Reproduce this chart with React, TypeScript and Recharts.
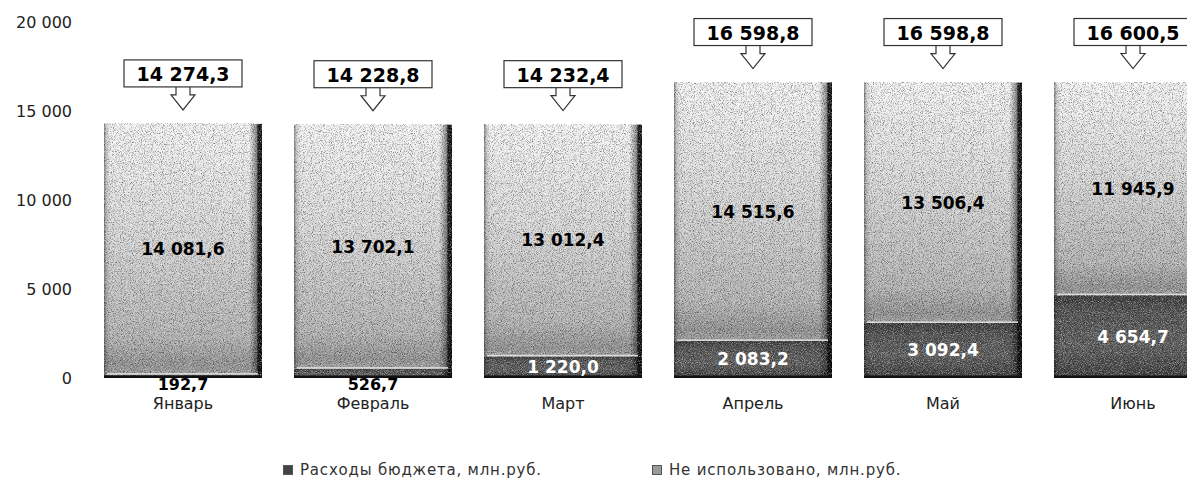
import React from "react";
import { Bar, BarChart, LabelList, XAxis, YAxis } from "recharts";

const months = ["Январь", "Февраль", "Март", "Апрель", "Май", "Июнь"];
const spent = [192.7, 526.7, 1220.0, 2083.2, 3092.4, 4654.7];
const unused = [14081.6, 13702.1, 13012.4, 14515.6, 13506.4, 11945.9];
const totals = [14274.3, 14228.8, 14232.4, 16598.8, 16598.8, 16600.5];
const yTicks = [0, 5000, 10000, 15000, 20000];

const seriesNames = ["Расходы бюджета, млн.руб.", "Не использовано, млн.руб."];

const data = months.map((month, i) => ({
  month,
  spent: spent[i],
  unused: unused[i],
}));

const FONT = "'DejaVu Sans', sans-serif";

function groupThousands(s: string) {
  return s.replace(/\B(?=(\d{3})+(?!\d))/g, " ");
}

function fmtValue(v: number) {
  const [a, b] = v.toFixed(1).split(".");
  return groupThousands(a) + "," + b;
}

function fmtTick(v: number) {
  return groupThousands(String(v));
}

function Segment(props: any) {
  const { x, y, width, height, kind } = props;
  if (!height || height <= 0) return null;
  const dark = kind === "spent";
  return (
    <g>
      <rect x={x} y={y} width={width} height={height} fill={dark ? "url(#gSpent)" : "url(#gUnused)"} />
      <rect x={x} y={y} width={width} height={height} fill="url(#gEdge)" />
      <rect x={x} y={y} width={width} height={height} fill="#000" filter="url(#grainDark)" />
      <rect x={x} y={y} width={width} height={height} fill="#fff" filter="url(#grainLight)" />
      {dark ? (
        <rect x={x} y={y + height - 2.5} width={width} height={2.5} fill="#111" />
      ) : (
        <rect x={x + 3} y={y + height - 1.5} width={width - 7} height={1.5} fill="#dcdcdc" />
      )}
    </g>
  );
}

function InnerLabel(props: any) {
  const { x, y, width, height, value, kind } = props;
  const cx = x + width / 2;
  const small = kind === "spent" && height < 15;
  const ty = small ? y + height + 6 : y + height / 2;
  const fill = kind === "spent" && !small ? "#fff" : "#000";
  return (
    <text
      x={cx}
      y={ty}
      textAnchor="middle"
      dominantBaseline="central"
      fontFamily={FONT}
      fontWeight="bold"
      fontSize={small ? 16 : 17}
      fill={fill}
    >
      {fmtValue(Number(value))}
    </text>
  );
}

function Callout(props: any) {
  const { x, y, width, index } = props;
  const cx = x + width / 2;
  const bw = 118;
  const bh = 27;
  const top = y - 64;
  const yb = top + bh;
  return (
    <g>
      <path
        d={`M${cx - 7},${yb} L${cx - 7},${yb + 8} L${cx - 12},${yb + 8} L${cx},${yb + 23} L${cx + 12},${yb + 8} L${cx + 7},${yb + 8} L${cx + 7},${yb}`}
        fill="#fff"
        stroke="#333"
        strokeWidth={1.2}
      />
      <rect x={cx - bw / 2} y={top} width={bw} height={bh} fill="#fff" stroke="#333" strokeWidth={1.2} />
      <text
        x={cx}
        y={top + bh / 2 + 1}
        textAnchor="middle"
        dominantBaseline="central"
        fontFamily={FONT}
        fontWeight="bold"
        fontSize={19}
        fill="#000"
      >
        {fmtValue(totals[index])}
      </text>
    </g>
  );
}

export default function App() {
  return (
    <div style={{ position: "relative", width: 1187, height: 471, overflow: "hidden", background: "#fff" }}>
      <BarChart
        width={1220}
        height={471}
        data={data}
        margin={{ top: 14, right: 0, left: 0, bottom: 61 }}
      >
        <defs>
          <linearGradient id="gUnused" x1="0" y1="0" x2="0" y2="1">
            <stop offset="0%" stopColor="#f6f6f6" />
            <stop offset="40%" stopColor="#dcdcdc" />
            <stop offset="85%" stopColor="#b4b4b4" />
            <stop offset="96%" stopColor="#929292" />
            <stop offset="100%" stopColor="#a0a0a0" />
          </linearGradient>
          <linearGradient id="gSpent" x1="0" y1="0" x2="0" y2="1">
            <stop offset="0%" stopColor="#3a3a3a" />
            <stop offset="20%" stopColor="#505050" />
            <stop offset="60%" stopColor="#5c5c5c" />
            <stop offset="100%" stopColor="#3c3c3c" />
          </linearGradient>
          <linearGradient id="gEdge" x1="0" y1="0" x2="1" y2="0">
            <stop offset="0%" stopColor="#000" stopOpacity={0.5} />
            <stop offset="1.5%" stopColor="#000" stopOpacity={0.15} />
            <stop offset="4%" stopColor="#000" stopOpacity={0} />
            <stop offset="92%" stopColor="#000" stopOpacity={0} />
            <stop offset="96.5%" stopColor="#000" stopOpacity={0.45} />
            <stop offset="97.5%" stopColor="#000" stopOpacity={0.9} />
            <stop offset="100%" stopColor="#000" stopOpacity={0.95} />
          </linearGradient>
          <filter id="grainDark" x="0" y="0" width="1" height="1">
            <feTurbulence type="fractalNoise" baseFrequency="1.1" numOctaves="1" seed="3" />
            <feColorMatrix type="matrix" values="0 0 0 0 0  0 0 0 0 0  0 0 0 0 0  1.5 0 0 0 -0.7" />
          </filter>
          <filter id="grainLight" x="0" y="0" width="1" height="1">
            <feTurbulence type="fractalNoise" baseFrequency="1.1" numOctaves="1" seed="7" />
            <feColorMatrix type="matrix" values="0 0 0 0 1  0 0 0 0 1  0 0 0 0 1  -1.5 0 0 0 0.8" />
          </filter>
        </defs>
        <XAxis
          dataKey="month"
          axisLine={false}
          tickLine={false}
          tickSize={0}
          tickMargin={20}
          height={40}
          interval={0}
          tick={{ fill: "#222", fontSize: 16, fontFamily: FONT }}
        />
        <YAxis
          domain={[0, 20000]}
          ticks={yTicks}
          width={80}
          axisLine={false}
          tickLine={false}
          tickSize={0}
          tickMargin={16}
          tickFormatter={fmtTick}
          tick={{ fill: "#222", fontSize: 16, fontFamily: FONT }}
        />
        <Bar
          dataKey="spent"
          name={seriesNames[0]}
          stackId="a"
          barSize={158}
          isAnimationActive={false}
          shape={(p: any) => <Segment {...p} kind="spent" />}
        >
          <LabelList dataKey="spent" content={(p: any) => <InnerLabel {...p} kind="spent" />} />
        </Bar>
        <Bar
          dataKey="unused"
          name={seriesNames[1]}
          stackId="a"
          barSize={158}
          isAnimationActive={false}
          shape={(p: any) => <Segment {...p} kind="unused" />}
        >
          <LabelList dataKey="unused" content={(p: any) => <InnerLabel {...p} kind="unused" />} />
          <LabelList dataKey="unused" content={(p: any) => <Callout {...p} />} />
        </Bar>
      </BarChart>
      <div
        style={{
          position: "absolute",
          left: 275,
          top: 453,
          display: "flex",
          fontFamily: FONT,
          fontSize: 15,
          letterSpacing: 0.8,
          color: "#333",
          whiteSpace: "nowrap",
        }}
      >
        {seriesNames.map((name, i) => (
          <div key={name} style={{ display: "flex", alignItems: "center", width: i === 0 ? 369 : "auto" }}>
            <span
              style={{
                display: "inline-block",
                width: 8,
                height: 8,
                marginRight: 7,
                background: i === 0 ? "#444" : "#999",
                border: "1px solid #555",
              }}
            />
            <span>{name}</span>
          </div>
        ))}
      </div>
    </div>
  );
}
